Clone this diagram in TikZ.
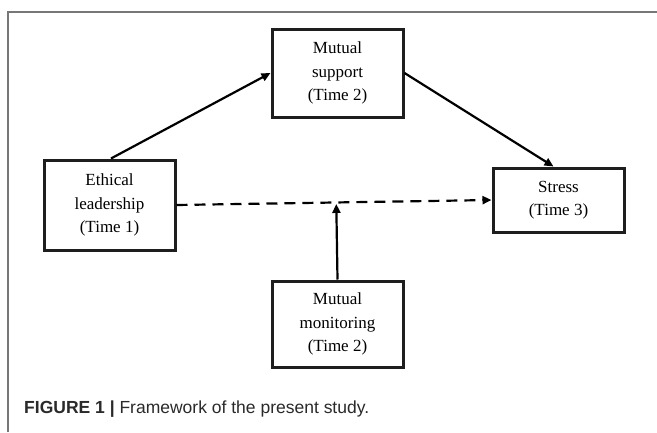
\documentclass[tikz,border=0pt]{standalone}
\usepackage{fontspec}
\setmainfont{Liberation Serif}
\newfontfamily\capfont{Liberation Sans}
\usetikzlibrary{arrows.meta,calc}
\definecolor{framegray}{HTML}{777777}
\definecolor{boxline}{HTML}{1E1E1E}
\definecolor{captext}{HTML}{2A2A2A}
\begin{document}
\begin{tikzpicture}[x=1pt,y=-1pt,
  varbox/.style={draw=boxline,line width=3pt,fill=white,minimum width=131pt,inner sep=0pt,
    align=center,font=\fontsize{17}{23.5}\selectfont},
  conn/.style={line width=2.2pt,-{Triangle[length=9pt,width=8pt]}},
  dashconn/.style={conn,dash pattern=on 11pt off 7pt}]
\useasboundingbox (0,0) rectangle (657,432);
\fill[white] (0,0) rectangle (657,432);
% frame
\draw[framegray,line width=1.5pt] (8,432) -- (8,12) -- (657,12);
% boxes
\node[varbox,minimum height=90pt] (ES) at (109.5,205) {Ethical\\leadership\\(Time 1)};
\node[varbox,minimum height=88pt] (MS) at (337.5,73) {Mutual\\support\\(Time 2)};
\node[varbox,minimum height=64pt] (ST) at (558.5,200) {Stress\\(Time 3)};
\node[varbox,minimum height=86pt] (MM) at (337.5,324) {Mutual\\monitoring\\(Time 2)};
% connectors
\draw[conn] ([xshift=1.5pt]ES.north) -- (MS.west);
\draw[conn] (MS.east) -- ([xshift=-5pt]ST.north);
\draw[dashconn] (ES.east) -- (ST.west);
\coordinate (mod) at ($(ES.east)!(MM.north)!(ST.west)$);
\draw[conn,shorten >=1.5pt] (MM.north) -- (mod);
% caption
\node[anchor=west,inner sep=0pt,text=captext,font=\capfont\fontsize{17.5}{20}\selectfont] (cap) at (24,409)
  {\textbf{FIGURE 1 |} Framework of the present study.};
\end{tikzpicture}
\end{document}
